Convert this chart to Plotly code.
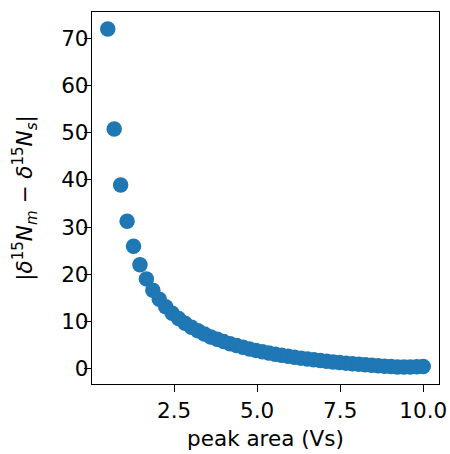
import plotly.graph_objects as go

peak_area = [0.5 + i * 9.5 / 49 for i in range(50)]
abs_diff = [72.0, 50.8, 38.9, 31.2, 25.9, 22.0, 19.0, 16.6, 14.7, 13.1,
            11.7, 10.6, 9.6, 8.75, 8.0, 7.3, 6.7, 6.2, 5.7, 5.26,
            4.86, 4.49, 4.15, 3.84, 3.55, 3.29, 3.04, 2.81, 2.59, 2.39,
            2.20, 2.02, 1.85, 1.69, 1.54, 1.40, 1.27, 1.14, 1.02, 0.90,
            0.79, 0.69, 0.59, 0.50, 0.40, 0.33, 0.30, 0.31, 0.36, 0.42]
x_tickvals = [2.5, 5.0, 7.5, 10.0]
x_ticktext = ["2.5", "5.0", "7.5", "10.0"]
y_tickvals = [0, 10, 20, 30, 40, 50, 60, 70]

def padded(vals, frac=0.05):
    lo, hi = min(vals), max(vals)
    d = (hi - lo) * frac
    return [lo - d, hi + d]

font = dict(family="DejaVu Sans", size=21.5, color="black")

fig = go.Figure(go.Scatter(
    x=peak_area, y=abs_diff, mode="markers",
    marker=dict(size=15.5, color="#1f77b4", line=dict(width=0)),
))

axis_common = dict(showline=True, linecolor="black", linewidth=1.4, mirror=True,
                   ticks="outside", ticklen=7, tickwidth=1.4, tickcolor="black",
                   showgrid=False, zeroline=False, tickfont=font, automargin=False)

fig.update_xaxes(range=padded(peak_area), tickvals=x_tickvals, ticktext=x_ticktext,
                 title=dict(text="peak area (Vs)", font=font, standoff=8), **axis_common)
fig.update_yaxes(range=padded(abs_diff), tickvals=y_tickvals, ticklabelstandoff=-9,
                 title=dict(text="|<i>δ</i><sup>15</sup><i>N</i><sub><i>m</i></sub> − <i>δ</i><sup>15</sup><i>N</i><sub><i>s</i></sub>|",
                            font=font, standoff=22), **axis_common)

fig.update_layout(width=450, height=454, margin=dict(l=92, r=11, t=12, b=70),
                  plot_bgcolor="white", paper_bgcolor="white", showlegend=False, font=font)

fig.write_html("out.html")
